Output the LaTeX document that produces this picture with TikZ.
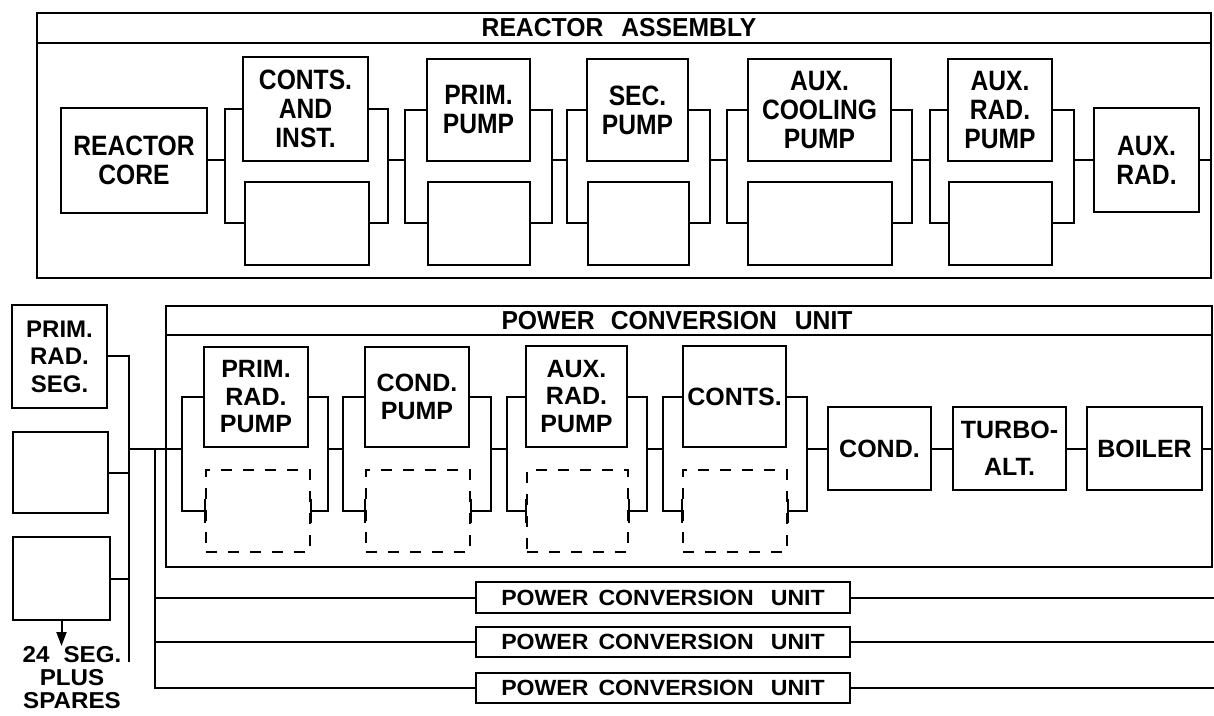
\documentclass[tikz,border=0pt]{standalone}
\usepackage{fontspec}
\setmainfont{Liberation Sans}
\newfontfamily\famR{Liberation Sans}[FakeStretch=0.88]
\newfontfamily\famT{Liberation Sans}[FakeStretch=0.95]
\newfontfamily\famS{Liberation Sans}[FakeStretch=1.05]
\usetikzlibrary{arrows.meta}
\newcommand{\fReact}{\famR\bfseries\fontsize{14}{14.5}\selectfont}
\newcommand{\fPcu}{\bfseries\fontsize{12.5}{13.75}\selectfont}
\newcommand{\fTitle}{\famT\bfseries\fontsize{13}{14}\selectfont}
\newcommand{\fSmall}{\famS\bfseries\fontsize{11}{12}\selectfont}
\newcommand{\fSeg}{\bfseries\fontsize{12}{12}\selectfont}
\newcommand{\fNote}{\famS\bfseries\fontsize{11.5}{11.5}\selectfont}
\newcommand{\pbox}[6]{\node[#1, minimum width={(#4-#2)*0.5pt}, minimum height={(#5-#3)*0.5pt}] (#6) at ({(#2+#4)/2},{(#3+#5)/2})}
\tikzset{
  frame/.style={draw, line width=1.3pt, inner sep=0pt},
  rbox/.style={draw, line width=1.3pt, inner sep=0pt, align=center, font=\fReact},
  pbx/.style={draw, line width=1.3pt, inner sep=0pt, align=center, font=\fPcu},
  sbx/.style={draw, line width=1.3pt, inner sep=0pt, align=center, font=\fPcu, text depth=0pt},
  dbox/.style={draw, line width=1.2pt, inner sep=0pt, dash pattern=on 5.5pt off 5.5pt},
  minibox/.style={draw, line width=1.3pt, inner sep=0pt, align=center, font=\fSmall},
  ttl/.style={inner sep=0pt, font=\fTitle},
  conn/.style={line width=1pt},
  tick/.style={line width=1.2pt},
  segtxt/.style={inner sep=0pt, align=center, font=\fNote},
}
\begin{document}
\begin{tikzpicture}[x=0.5pt, y=-0.5pt, line join=miter]
\fill[white] (0,0) rectangle (1214,716);
\useasboundingbox (0,0) rectangle (1214,716);

% ---------------- Reactor assembly ----------------
\pbox{frame}{37}{13}{1211}{278}{ra} {};
\pbox{frame}{37}{13}{1211}{43}{rah} {};
\node[ttl] (ratitle) at (619,28) {REACTOR\hspace{9pt}ASSEMBLY};

\pbox{rbox}{61}{108}{207}{213}{rc} {REACTOR\\CORE};
\pbox{rbox}{243}{57}{368}{161}{ci} {CONTS.\\AND\\INST.};
\pbox{rbox}{245}{182}{369}{265}{cib} {};
\pbox{rbox}{427}{59}{530}{161}{pp} {PRIM.\\PUMP};
\pbox{rbox}{428}{182}{530}{265}{ppb} {};
\pbox{rbox}{587}{59}{688}{161}{sp} {SEC.\\PUMP};
\pbox{rbox}{588}{182}{689}{265}{spb} {};
\pbox{rbox}{748}{59}{891}{161}{ac} {AUX.\\COOLING\\PUMP};
\pbox{rbox}{748}{182}{892}{265}{acb} {};
\pbox{rbox}{948}{59}{1052}{161}{arp} {AUX.\\RAD.\\PUMP};
\pbox{rbox}{949}{182}{1052}{265}{arpb} {};
\pbox{rbox}{1094}{108}{1199}{212}{ar} {AUX.\\RAD.};

\coordinate (rb1l) at (225,160);  \coordinate (rb1r) at (388,160);
\coordinate (rb2l) at (405,160);  \coordinate (rb2r) at (552,160);
\coordinate (rb3l) at (567,160);  \coordinate (rb3r) at (710,160);
\coordinate (rb4l) at (727,160);  \coordinate (rb4r) at (912,160);
\coordinate (rb5l) at (930,160);  \coordinate (rb5r) at (1074,160);

\draw[conn] (ci.west) -| (rb1l) |- (cib.west);
\draw[conn] (ci.east) -| (rb1r) |- (cib.east);
\draw[conn] (pp.west) -| (rb2l) |- (ppb.west);
\draw[conn] (pp.east) -| (rb2r) |- (ppb.east);
\draw[conn] (sp.west) -| (rb3l) |- (spb.west);
\draw[conn] (sp.east) -| (rb3r) |- (spb.east);
\draw[conn] (ac.west) -| (rb4l) |- (acb.west);
\draw[conn] (ac.east) -| (rb4r) |- (acb.east);
\draw[conn] (arp.west) -| (rb5l) |- (arpb.west);
\draw[conn] (arp.east) -| (rb5r) |- (arpb.east);

\draw[conn] (rc.east |- rb1l) -- (rb1l);
\draw[conn] (rb1r) -- (rb2l);
\draw[conn] (rb2r) -- (rb3l);
\draw[conn] (rb3r) -- (rb4l);
\draw[conn] (rb4r) -- (rb5l);
\draw[conn] (rb5r) -- (ar.west |- rb5r);
\draw[conn] (ar.east |- rb5r) -- (ra.east |- rb5r);

% ---------------- Power conversion unit ----------------
\pbox{frame}{166}{306}{1212}{567}{pcu} {};
\pbox{frame}{166}{306}{1212}{335}{pcuh} {};
\node[ttl] (pcutitle) at (677,321) {POWER\hspace{8pt}CONVERSION\hspace{9pt}UNIT};

\pbox{pbx}{204}{347}{308}{447}{prp} {PRIM.\\RAD.\\PUMP};
\pbox{dbox}{206}{470}{310}{552}{prpd} {};
\pbox{pbx}{365}{347}{469}{447}{cp} {COND.\\PUMP};
\pbox{dbox}{366}{470}{470}{552}{cpd} {};
\pbox{pbx}{526}{346}{627}{447}{xp} {AUX.\\RAD.\\PUMP};
\pbox{dbox}{527}{470}{628}{552}{xpd} {};
\pbox{pbx}{683}{346}{786}{447}{ct} {CONTS.};
\pbox{dbox}{683}{470}{787}{552}{ctd} {};
\pbox{pbx}{828}{407}{931}{490}{cond} {COND.};
\pbox{pbx}{953}{407}{1066}{490}{turbo} {TURBO-\\[4.5pt]ALT.};
\pbox{pbx}{1087}{407}{1202}{490}{boiler} {BOILER};

\foreach \d in {prpd,cpd,xpd,ctd}{
  \draw[tick] ([yshift=6pt]\d.west) -- ([yshift=-6pt]\d.west);
  \draw[tick] ([yshift=6pt]\d.east) -- ([yshift=-6pt]\d.east);
}

\coordinate (pb1l) at (182,449);  \coordinate (pb1r) at (328,449);
\coordinate (pb2l) at (343,449);  \coordinate (pb2r) at (491,449);
\coordinate (pb3l) at (507,449);  \coordinate (pb3r) at (647,449);
\coordinate (pb4l) at (663,449);  \coordinate (pb4r) at (807,449);

\draw[conn] (prp.west) -| (pb1l) |- (prpd.west);
\draw[conn] (prp.east) -| (pb1r) |- (prpd.east);
\draw[conn] (cp.west) -| (pb2l) |- (cpd.west);
\draw[conn] (cp.east) -| (pb2r) |- (cpd.east);
\draw[conn] (xp.west) -| (pb3l) |- (xpd.west);
\draw[conn] (xp.east) -| (pb3r) |- (xpd.east);
\draw[conn] (ct.west) -| (pb4l) |- (ctd.west);
\draw[conn] (ct.east) -| (pb4r) |- (ctd.east);

\draw[conn] (pb1r) -- (pb2l);
\draw[conn] (pb2r) -- (pb3l);
\draw[conn] (pb3r) -- (pb4l);
\draw[conn] (pb4r) -- (cond.west |- pb4r);
\draw[conn] (cond.east |- pb4r) -- (turbo.west |- pb4r);
\draw[conn] (turbo.east |- pb4r) -- (boiler.west |- pb4r);
\draw[conn] (boiler.east |- pb4r) -- (pcu.east |- pb4r);

% ---------------- Radiator segments and bus ----------------
\pbox{sbx}{12}{305}{107}{408}{prs} {\fSeg PRIM.\\\fSeg RAD.\\\fSeg SEG.};
\pbox{sbx}{13}{432}{108}{513}{sg2} {};
\pbox{sbx}{13}{537}{110}{620}{sg3} {};

\coordinate (j1) at (129,449);
\coordinate (busend) at (129,662);
\coordinate (j2) at (155,449);
\coordinate (edgeR) at (1214,449);

\draw[conn] (prs.east) -| (busend);
\draw[conn] (sg2.east) -- (sg2.east -| busend);
\draw[conn] (sg3.east) -- (sg3.east -| busend);
\draw[conn] (j1) -- (pb1l);

\pbox{minibox}{476}{582}{850}{613}{pcuA} {POWER\hspace{5pt}CONVERSION\hspace{8.5pt}UNIT};
\pbox{minibox}{476}{627}{850}{657}{pcuB} {POWER\hspace{5pt}CONVERSION\hspace{8.5pt}UNIT};
\pbox{minibox}{476}{673}{850}{703}{pcuC} {POWER\hspace{5pt}CONVERSION\hspace{8.5pt}UNIT};

\draw[conn] (j2) |- (pcuA.west);
\draw[conn] (j2) |- (pcuB.west);
\draw[conn] (j2) |- (pcuC.west);
\draw[conn] (pcuA.east) -- (pcuA.east -| edgeR);
\draw[conn] (pcuB.east) -- (pcuB.east -| edgeR);
\draw[conn] (pcuC.east) -- (pcuC.east -| edgeR);

\coordinate (arrtip) at (61.5,646);
\draw[conn, -{Triangle[length=7pt,width=5pt]}] (sg3.south) -- (arrtip);
\node[segtxt, anchor=north] (segnote) at (72,646) {24\hspace{7pt}SEG.\\PLUS\\SPARES};
\end{tikzpicture}
\end{document}
